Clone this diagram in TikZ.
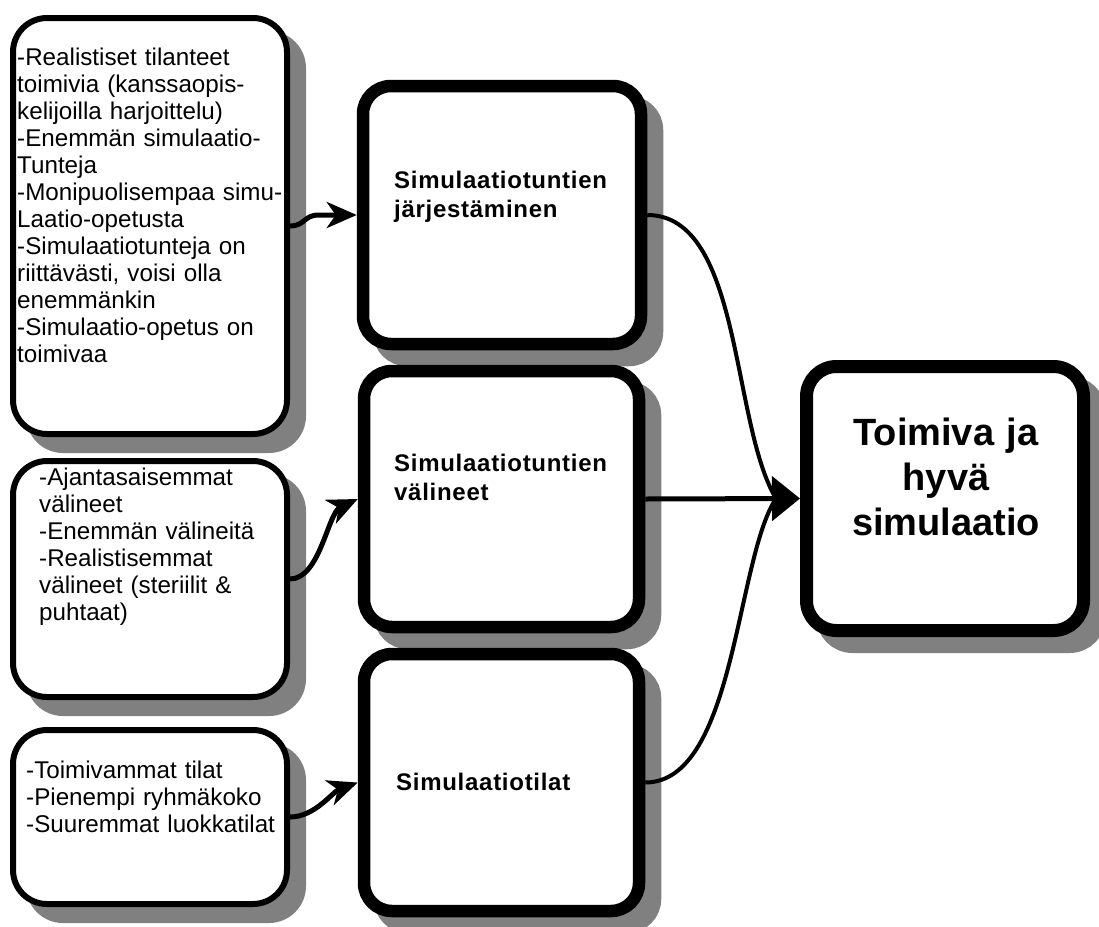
\documentclass[tikz,border=0pt]{standalone}
\usepackage{fontspec}
\setmainfont{Liberation Sans}
\usetikzlibrary{arrows.meta,shadows}
\definecolor{shgray}{RGB}{128,128,128}
\begin{document}
\begin{tikzpicture}[x=1pt,y=-1pt,
  sh/.style={drop shadow={shadow xshift=16pt,shadow yshift=-16pt,opacity=1,fill=shgray,draw=shgray}},
  lbox/.style={draw=black,fill=white,line width=6pt,rounded corners=34pt,inner sep=0pt,sh},
  mbox/.style={draw=black,fill=white,line width=12.5pt,rounded corners=28pt,inner sep=0pt,sh},
  rbox/.style={draw=black,fill=white,line width=13pt,rounded corners=30pt,inner sep=0pt,sh},
  ltext/.style={anchor=base west,inner sep=0pt,align=left,text width=275pt,font=\fontsize{24.2}{27}\selectfont},
  mtext/.style={anchor=base west,inner sep=0pt,align=left,text width=245pt,font=\fontsize{24}{29.5}\selectfont\bfseries\addfontfeature{LetterSpace=3}},
  lconn/.style={line width=5pt,-{Stealth[length=30pt,width=26pt,inset=9pt]}},
  rconn/.style={line width=4pt}
]
\useasboundingbox (0,0) rectangle (1099,926);

% left boxes
\node[lbox,minimum width=274pt,minimum height=416pt] (A) at (150,226) {};
\node[lbox,minimum width=274pt,minimum height=236pt] (B) at (150,579) {};
\node[lbox,minimum width=274pt,minimum height=174pt] (C) at (150,817) {};

% middle boxes
\node[mbox,minimum width=278pt,minimum height=258pt] (M1) at (502,215) {};
\node[mbox,minimum width=275pt,minimum height=256pt] (M2) at (501.5,499) {};
\node[mbox,minimum width=275pt,minimum height=257pt] (M3) at (501.5,782.5) {};

% right box
\node[rbox,minimum width=277pt,minimum height=264pt] (R) at (945,498.5) {};

% texts
\node[ltext] (tA) at (17,65) {-Realistiset tilanteet\\toimivia (kanssaopis-\\kelijoilla harjoittelu)\\-Enemmän simulaatio-\\Tunteja\\-Monipuolisempaa simu-\\Laatio-opetusta\\-Simulaatiotunteja on\\riittävästi, voisi olla\\enemmänkin\\-Simulaatio-opetus on\\toimivaa};
\node[ltext] (tB) at (39,485) {-Ajantasaisemmat\\välineet\\-Enemmän välineitä\\-Realistisemmat\\välineet (steriilit \&\\puhtaat)};
\node[ltext] (tC) at (26,778) {-Toimivammat tilat\\-Pienempi ryhmäkoko\\-Suuremmat luokkatilat};

\node[mtext] (t1) at (394,188) {Simulaatiotuntien\\järjestäminen};
\node[mtext] (t2) at (394,471) {Simulaatiotuntien\\välineet};
\node[mtext] (t3) at (396,790) {Simulaatiotilat};

\node[anchor=base,inner sep=0pt,align=center,text width=270pt,font=\fontsize{38}{45}\selectfont\bfseries] (tR) at (946,445) {Toimiva ja\\hyvä\\simulaatio};

% left connectors
\draw[lconn] (A.east) .. controls +(15,0) and +(-15,0) .. ([xshift=-38pt]M1.west) -- (M1.west);
\draw[lconn] (B.east) .. controls +(30,0) and +(-30,14) .. (M2.west);
\draw[lconn] (C.east) .. controls +(25,0) and +(-25,9) .. (M3.west);

% right connectors
\coordinate (hub) at ([xshift=-24pt]R.west);
\draw[rconn] (M1.east) .. controls +(95,0) and +(-45,-75) .. (hub);
\draw[rconn] (M3.east) .. controls +(90,0) and +(-40,60) .. (hub);
\draw[line width=5pt,-{Triangle[length=28pt,width=44pt]}] (M2.east) -- (R.west);
\end{tikzpicture}
\end{document}
